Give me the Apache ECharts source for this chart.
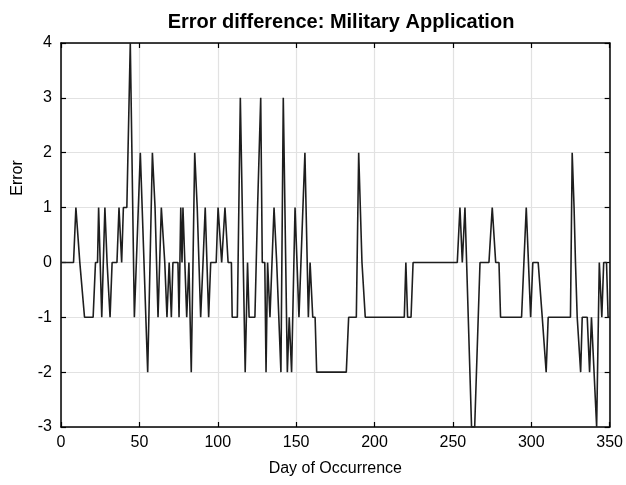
<!DOCTYPE html>
<html>
<head>
<meta charset="utf-8">
<script src="https://cdn.jsdelivr.net/npm/echarts@6/dist/echarts.min.js"></script>
<style>
html, body { margin: 0; padding: 0; background: #fff; }
#chart { width: 626px; height: 485px; }
</style>
</head>
<body>
<div id="chart"></div>
<script>
// vertices of the error trace
const days = [0, 8, 9.5, 10.5, 12, 13, 15, 20.5, 22, 23.3, 24, 26, 28, 29.4, 31.3, 32.6, 35.7, 37, 38.7, 39.8,
    42, 44.2, 46.8, 47.3, 50.6, 55.3, 58.3, 60, 61.9, 64, 66.2, 67.6, 69, 69.7, 70.4, 71.4, 74.6, 75.3, 76.4, 77.2,
    77.8, 80.2, 81.6, 83.1, 85.3, 86.9, 89.1, 90.6, 92, 94.2, 95.5, 99, 100.2, 102.5, 104.6, 106.6, 108.7, 109.2, 112.5, 114.4,
    115.5, 117.5, 119, 120, 123.7, 125.4, 126.4, 127.4, 128.4, 130, 130.8, 131.8, 133.3, 135.9, 137.6, 140.3, 141.8, 144.4, 145.6, 147.1,
    149.3, 151.8, 155.6, 157.8, 158.9, 160, 160.6, 162.1, 163.1, 182, 183.5, 188.4, 189.9, 191, 192, 193, 194.1, 219, 220, 221.1,
    223.3, 224.6, 252.8, 254.5, 256, 257.7, 261.9, 263.9, 267.3, 273, 275.1, 277.3, 279.4, 280.4, 293.8, 296.8, 299.6, 301, 304.4, 307,
    309.5, 310.8, 325, 326.1, 327.3, 328.2, 329.3, 331.5, 332.5, 335.7, 337.2, 338.4, 339.5, 341.7, 343.4, 345, 346.2, 348, 349, 350];
const errors = [0, 0, 1, 1, 0, 0, -1, -1, 0, 0, 1, -1, 1, 0, -1, 0, 0, 1, 0, 1,
    1, 4, -1, -1, 2, -2, 2, 1, -1, 1, 0, -1, 0, 0, -1, 0, 0, -1, 1, 0,
    1, -1, 0, -2, 2, 1, -1, 0, 1, -1, 0, 0, 1, 0, 1, 0, 0, -1, -1, 3,
    3, -2, 0, -1, -1, 1, 1, 3, 0, 0, -2, 0, -1, 1, 0, -2, 3, -2, -1, -2,
    1, -1, 2, -1, 0, 0, -1, -1, -2, -2, -1, -1, 2, 2, 0, 0, -1, -1, 0, -1,
    -1, 0, 0, 1, 0, 1, -3, -3, 0, 0, 1, 0, 0, -1, -1, 1, -1, 0, 0, -1,
    -2, -1, -1, 2, 1, 0, -1, -2, -1, -1, -2, -1, -1, -3, 0, -1, 0, 0, -1, -1];

const xTicks = [0, 50, 100, 150, 200, 250, 300, 350];
const yTicks = [-3, -2, -1, 0, 1, 2, 3, 4];

const font = "'Liberation Sans', Arial, sans-serif";

const elem = document.getElementById('chart');
const myChart = echarts.init(elem, null, { renderer: 'canvas' });

const frameLine = { show: true, onZero: false, lineStyle: { color: '#000', width: 1.5 } };
const frameTick = { show: true, inside: true, length: 5, lineStyle: { color: '#000', width: 1.2 } };
const gridLine = { show: true, lineStyle: { color: '#e2e2e2', width: 1.2 } };

myChart.setOption({
    backgroundColor: '#fff',
    animation: false,
    title: {
        text: 'Error difference: Military Application',
        left: 336,
        textAlign: 'center',
        top: 7,
        textStyle: { fontFamily: font, fontWeight: 'bold', fontSize: 20, color: '#000' }
    },
    grid: { left: 61, right: 16, top: 43, bottom: 58 },
    xAxis: [{
        type: 'value',
        min: xTicks[0],
        max: xTicks[xTicks.length - 1],
        interval: 50,
        name: 'Day of Occurrence',
        nameLocation: 'middle',
        nameGap: 34,
        nameTextStyle: { fontFamily: font, fontSize: 16, color: '#000' },
        axisLine: frameLine,
        axisTick: frameTick,
        axisLabel: { fontFamily: font, fontSize: 16, color: '#000', margin: 8 },
        splitLine: gridLine
    }, {
        type: 'value',
        position: 'top',
        min: xTicks[0],
        max: xTicks[xTicks.length - 1],
        interval: 50,
        axisLine: frameLine,
        axisTick: frameTick,
        axisLabel: { show: false },
        splitLine: { show: false }
    }],
    yAxis: [{
        type: 'value',
        min: yTicks[0],
        max: yTicks[yTicks.length - 1],
        interval: 1,
        axisLine: frameLine,
        axisTick: frameTick,
        axisLabel: { fontFamily: font, fontSize: 16, color: '#000', margin: 9 },
        splitLine: gridLine
    }, {
        type: 'value',
        position: 'right',
        min: yTicks[0],
        max: yTicks[yTicks.length - 1],
        interval: 1,
        axisLine: frameLine,
        axisTick: frameTick,
        axisLabel: { show: false },
        splitLine: { show: false }
    }],
    graphic: [{
        type: 'text',
        x: 18,
        y: 178,
        rotation: Math.PI / 2,
        style: { text: 'Error', fontFamily: font, fontSize: 16, fill: '#000', align: 'center', verticalAlign: 'middle' }
    }],
    series: [{
        type: 'line',
        showSymbol: false,
        data: days.map((d, i) => [d, errors[i]]),
        lineStyle: { color: '#1e1e1e', width: 1.6 },
        z: 3
    }]
});
</script>
</body>
</html>
